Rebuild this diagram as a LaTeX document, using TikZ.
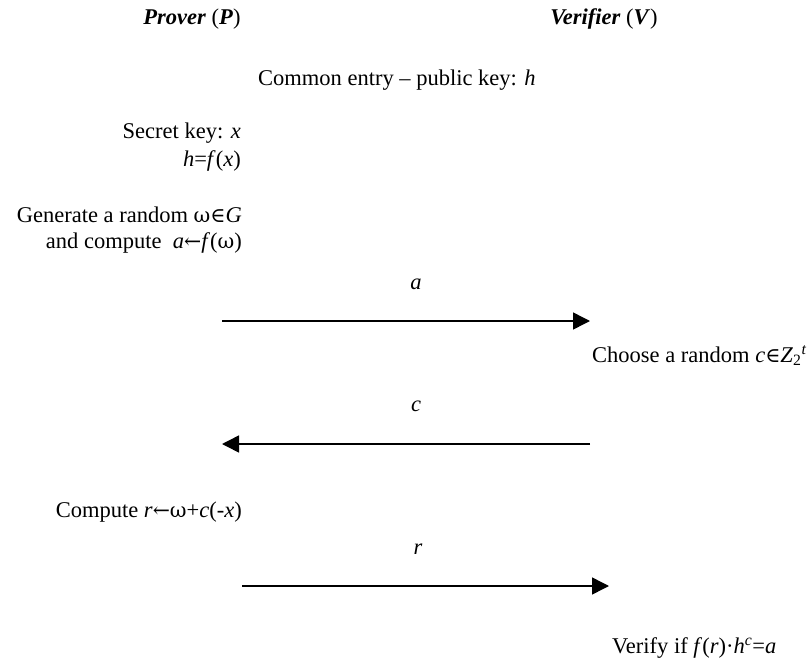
\documentclass[tikz,border=0pt]{standalone}
\usepackage{fontspec}
\setmainfont{Liberation Serif}
\newfontfamily\symf{DejaVu Serif}
\usetikzlibrary{arrows.meta}
\newcommand{\sy}[1]{{\symf\fontsize{20.5}{24}\selectfont #1}}
\begin{document}
\begin{tikzpicture}[x=1pt,y=-1pt,
  txt/.style={inner sep=0pt,font=\fontsize{22.5}{26}\selectfont},
  msg/.style={line width=1.5pt,-{Triangle[length=17pt,width=17pt]}}]
\useasboundingbox (0,0) rectangle (809,661);
\node[txt,anchor=base] (prover) at (192,25) {\textbf{\textit{Prover}} (\textbf{\textit{P}})};
\node[txt,anchor=base] (verifier) at (604,25) {\textbf{\textit{Verifier}} (\textbf{\textit{V}})};
\node[txt,anchor=base west] (common) at (258,85) {Common entry – public key: \textit{h}};
\node[txt,anchor=base east] (secret) at (241,139) {Secret key: \textit{x}};
\node[txt,anchor=base east] (hfx) at (241,166) {\textit{h}=\textit{f}(\textit{x})};
\node[txt,anchor=base east] (gen1) at (242,222) {Generate a random \sy{ω∈}\textit{G}};
\node[txt,anchor=base east] (gen2) at (242,248) {and compute \ \textit{a}\sy{←}\textit{f}(\sy{ω})};
\node[txt,anchor=base] (la) at (416,289) {\textit{a}};
\coordinate (a1) at (222,321);
\coordinate (a2) at (590,321);
\draw[msg] (a1) -- (a2);
\node[txt,anchor=base west] (choose) at (592,362) {Choose a random \textit{c}\sy{∈}\textit{Z}\textsubscript{2}\textsuperscript{\textit{t}}};
\node[txt,anchor=base] (lc) at (416,411) {\textit{c}};
\coordinate (c1) at (590,444);
\coordinate (c2) at (222,444);
\draw[msg] (c1) -- (c2);
\node[txt,anchor=base east] (comp) at (242,517) {Compute \textit{r}\sy{←ω}+\textit{c}(-\textit{x})};
\node[txt,anchor=base] (lr) at (418,554) {\textit{r}};
\coordinate (r1) at (242,586);
\coordinate (r2) at (609,586);
\draw[msg] (r1) -- (r2);
\node[txt,anchor=base west] (verify) at (612,653) {Verify if \textit{f}(\textit{r})·\textit{h}\textsuperscript{\textit{c}}=\textit{a}};
\end{tikzpicture}
\end{document}
